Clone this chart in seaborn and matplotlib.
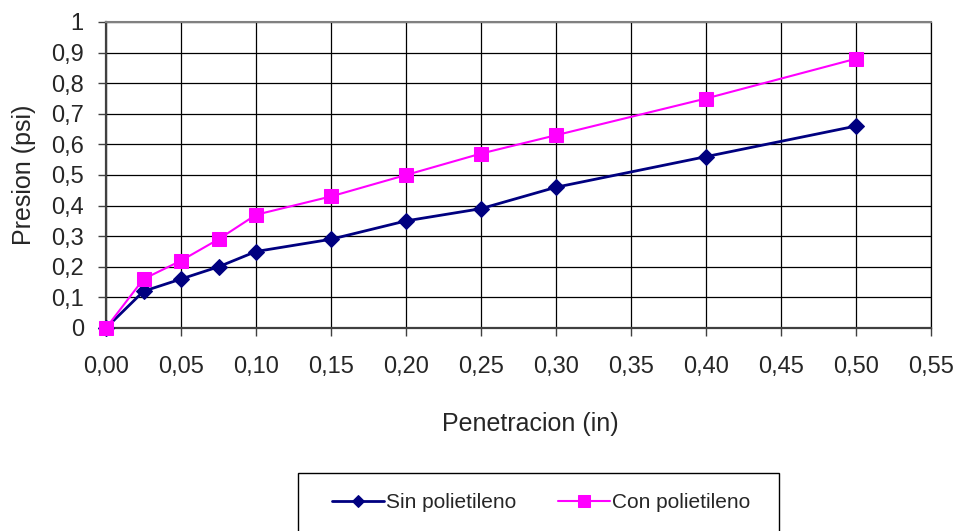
import matplotlib
matplotlib.use("Agg")
import matplotlib.pyplot as plt
from matplotlib.patches import Rectangle
from matplotlib.ticker import MultipleLocator, FuncFormatter
import seaborn as sns
import pandas as pd

# Penetration (in) and pressure (psi) readings
penetracion = [0.0, 0.025, 0.05, 0.075, 0.10, 0.15, 0.20, 0.25, 0.30, 0.40, 0.50]
sin_polietileno = [0.0, 0.12, 0.16, 0.20, 0.25, 0.29, 0.35, 0.39, 0.46, 0.56, 0.66]
con_polietileno = [0.0, 0.16, 0.22, 0.29, 0.37, 0.43, 0.50, 0.57, 0.63, 0.75, 0.88]
series_names = ["Sin polietileno", "Con polietileno"]

df_sin = pd.DataFrame({"x": penetracion, "y": sin_polietileno})
df_con = pd.DataFrame({"x": penetracion, "y": con_polietileno})

sns.set_style("white")
plt.rcParams["font.family"] = ["Liberation Sans", "DejaVu Sans"]

fig = plt.figure(figsize=(9.61, 5.31), dpi=100)
ax = fig.add_axes([106 / 961, 1 - 328 / 531, 825 / 961, 306 / 531])

navy = "#000080"
magenta = "#FF00FF"

sns.lineplot(data=df_sin, x="x", y="y", ax=ax, color=navy, lw=2.0,
             marker="D", markersize=8, markeredgecolor=navy, markerfacecolor=navy,
             label=series_names[0], clip_on=False, zorder=4)
sns.lineplot(data=df_con, x="x", y="y", ax=ax, color=magenta, lw=1.5,
             marker="s", markersize=10, markeredgecolor=magenta, markerfacecolor=magenta,
             label=series_names[1], clip_on=False, zorder=5)

ax.set_xlim(0, 0.55)
ax.set_ylim(0, 1)
ax.xaxis.set_major_locator(MultipleLocator(0.05))
ax.yaxis.set_major_locator(MultipleLocator(0.1))
ax.xaxis.set_major_formatter(FuncFormatter(lambda v, p: f"{v:.2f}".replace(".", ",")))


def yfmt(v, p):
    s = f"{v:.1f}"
    if s.endswith(".0"):
        s = s[:-2]
    return s.replace(".", ",")


ax.yaxis.set_major_formatter(FuncFormatter(yfmt))

ax.grid(True, color="black", lw=0.9)
ax.set_axisbelow(True)
for side in ["left", "bottom"]:
    ax.spines[side].set_color("#404040")
    ax.spines[side].set_linewidth(1.6)
ax.spines["top"].set_color("#808080")
ax.spines["top"].set_linewidth(1.5)
ax.spines["right"].set_color("black")
ax.spines["right"].set_linewidth(0.9)

ax.tick_params(axis="x", direction="out", length=6, width=1, color="#404040",
               labelsize=17, pad=14, bottom=True)
ax.tick_params(axis="y", direction="out", length=6, width=1, color="#404040",
               labelsize=17, pad=10, left=True)

ax.set_xlabel("Penetracion (in)", fontsize=18)
ax.set_ylabel("Presion (psi)", fontsize=18)
ax.xaxis.set_label_coords((530 - 106) / 825, (328 - 412) / 306)
ax.yaxis.set_label_coords((36 - 106) / 825, 0.5)

handles, labels = ax.get_legend_handles_labels()
if ax.legend_:
    ax.legend_.remove()
fig.legend(handles, labels, loc="center left",
           bbox_to_anchor=(332 / 961, 1 - 503 / 531), ncol=2, frameon=False,
           fontsize=15, handlelength=2.5, handletextpad=0.1, columnspacing=2.0,
           borderpad=0, borderaxespad=0, markerscale=0.8)
fig.add_artist(Rectangle((298 / 961, 1 - 545 / 531), 481 / 961, 72 / 531,
                         transform=fig.transFigure, fill=False,
                         edgecolor="black", lw=1.0))

fig.savefig("out.png", dpi=100)
